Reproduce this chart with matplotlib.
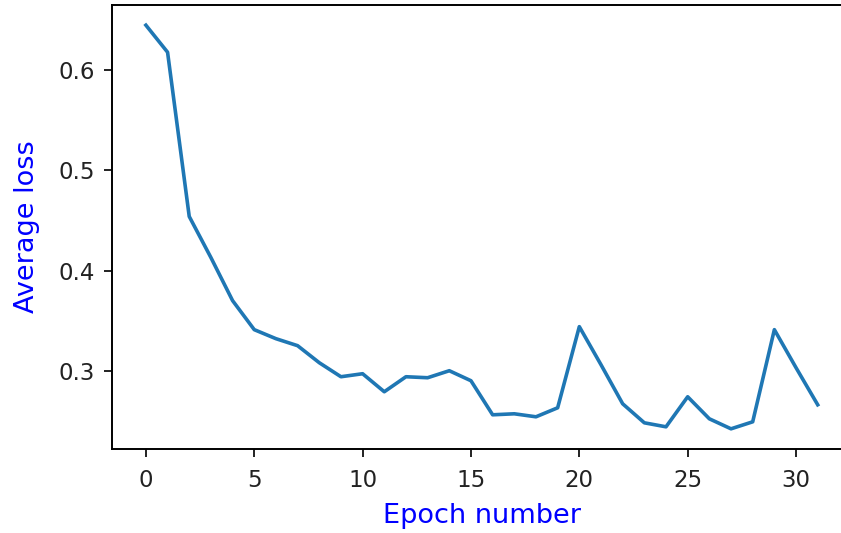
import matplotlib
matplotlib.use("Agg")
import matplotlib.pyplot as plt

epochs = list(range(32))
avg_loss = [0.645, 0.618, 0.454, 0.413, 0.370, 0.341, 0.332, 0.325, 0.308, 0.294,
            0.297, 0.279, 0.294, 0.293, 0.300, 0.290, 0.256, 0.257, 0.254, 0.263,
            0.344, 0.306, 0.267, 0.248, 0.244, 0.274, 0.252, 0.242, 0.249, 0.341,
            0.303, 0.266]

fig = plt.figure(figsize=(8.41, 5.33), dpi=100)
ax = fig.add_axes([112.3/841, 84/533, 739/841, 444/533])
ax.plot(epochs, avg_loss, color="#1f77b4", linewidth=2.6)
ax.set_xlabel("Epoch number", color="blue", fontsize=19.5, labelpad=8)
ax.set_ylabel("Average loss", color="blue", fontsize=19.5, labelpad=13)
ax.set_yticks([0.3, 0.4, 0.5, 0.6])
ax.tick_params(labelsize=16.5, length=6, width=1.4, colors="#222222")
ax.tick_params(axis="x", pad=8.5)
ax.tick_params(axis="y", pad=6.5)
for s in ax.spines.values():
    s.set_linewidth(1.4)
fig.savefig("out.png", dpi=100)
